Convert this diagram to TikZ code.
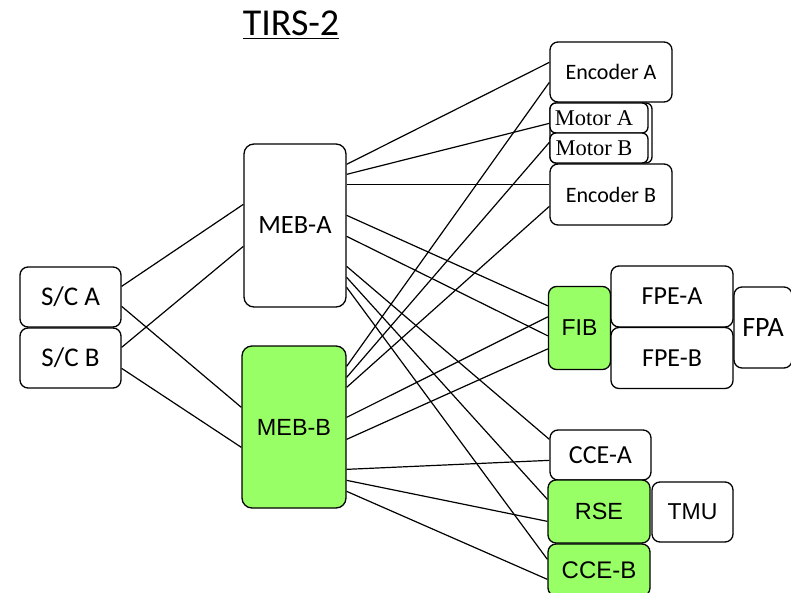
\documentclass[tikz,border=0pt]{standalone}
\usepackage{fontspec}
\setmainfont{Carlito}
\newfontfamily\arialfont{Liberation Sans}
\newfontfamily\timesfont{Liberation Serif}
\usetikzlibrary{positioning, calc}

\definecolor{boardgreen}{RGB}{153,255,102}

\tikzset{
    unit/.style={draw=black, line width=0.65pt, rounded corners=4pt, fill=white, inner sep=0pt, align=center},
    bigunit/.style={unit, rounded corners=5pt},
    greenunit/.style={fill=boardgreen},
    motorunit/.style={unit, rounded corners=3pt, minimum width=49pt, minimum height=15pt},
    link/.style={line width=0.6pt, draw=black},
    calfont/.style={font=\fontsize{#1}{#1}\selectfont},
    arfont/.style={font=\arialfont\fontsize{#1}{#1}\selectfont},
    tmfont/.style={font=\timesfont\fontsize{#1}{#1}\selectfont}
}

\begin{document}
\begin{tikzpicture}[x=0.5pt,y=-0.5pt]
    \useasboundingbox (0,0) rectangle (791,593);

    % Titolo
    \node[calfont=19pt] (title) at (291,25) {\underline{TIRS-2}};

    % Spacecraft
    \node[unit,calfont=13.5pt,minimum width=50.5pt,minimum height=30pt] (scA) at (70.5,297) {S/C A};
    \node[unit,calfont=13.5pt,minimum width=50.5pt,minimum height=30pt] (scB) at (70.5,358) {S/C B};

    % Elettronica principale
    \node[bigunit,calfont=13.2pt,minimum width=51pt,minimum height=81.5pt] (mebA) at (295,225.5) {MEB-A};
    \node[bigunit,greenunit,arfont=11.7pt,minimum width=52pt,minimum height=81pt] (mebB) at (294,427) {MEB-B};

    % Meccanismo
    \node[unit,calfont=11pt,minimum width=61pt,minimum height=30pt] (encA) at (611,72) {Encoder A};
    \node[unit,rounded corners=3pt,minimum width=51pt,minimum height=30pt] (motors) at (601,133) {};
    \node[motorunit,tmfont=11.25pt] (motA) at (599,118) {\raisebox{-1.5pt}{Motor A}\hspace{5pt}};
    \node[motorunit,tmfont=11.25pt] (motB) at (599,148) {\raisebox{-1.5pt}{Motor B}\hspace{5pt}};
    \node[unit,calfont=11pt,minimum width=61pt,minimum height=30.5pt] (encB) at (611,194.5) {Encoder B};

    % Piano focale
    \node[unit,greenunit,arfont=11.5pt,minimum width=31pt,minimum height=41.5pt] (fib) at (579.5,328) {FIB};
    \node[unit,calfont=13pt,minimum width=61pt,minimum height=30.5pt] (fpeA) at (672,296.5) {FPE-A};
    \node[unit,calfont=13pt,minimum width=61pt,minimum height=30.5pt] (fpeB) at (672,358) {FPE-B};
    \node[unit,calfont=14pt,minimum width=29pt,minimum height=40.5pt] (fpa) at (763,327.5) {FPA};

    % Controllo e sensori
    \node[unit,calfont=13pt,minimum width=50.5pt,minimum height=25pt] (cceA) at (600.5,455) {CCE-A};
    \node[unit,greenunit,arfont=11.7pt,minimum width=51pt,minimum height=31.5pt] (rse) at (599,511.5) {RSE};
    \node[unit,arfont=11.5pt,minimum width=40.5pt,minimum height=30pt] (tmu) at (692.5,512) {TMU};
    \node[unit,greenunit,arfont=12pt,minimum width=51pt,minimum height=26pt] (cceB) at (599,570) {CCE-B};

    % Connessioni S/C - MEB
    \draw[link] ($(scA.north east)+(0,20)$) -- ($(mebA.north west)+(0,61)$);
    \draw[link] ($(scA.north east)+(0,40)$) -- ($(mebB.north west)+(0,62)$);
    \draw[link] ($(scB.north east)+(0,20)$) -- ($(mebA.north west)+(0,103)$);
    \draw[link] ($(scB.north east)+(0,41)$) -- ($(mebB.north west)+(0,102)$);

    % Connessioni MEB-A
    \foreach \a/\t/\b in {21/encA/21, 31/motA/21, 41/encB/21, 72/fib/20, 93/fib/50, 123/cceA/10, 134/rse/20, 144/cceB/16}
        \draw[link] ($(mebA.north east)+(0,\a)$) -- ($(\t.north west)+(0,\b)$);

    % Connessioni MEB-B
    \foreach \a/\t/\b in {21/encA/41, 32/motB/10, 42/encB/43, 72/fib/31, 94/fib/63, 124/cceA/31, 135/rse/42, 146/cceB/36}
        \draw[link] ($(mebB.north east)+(0,\a)$) -- ($(\t.north west)+(0,\b)$);
\end{tikzpicture}
\end{document}
